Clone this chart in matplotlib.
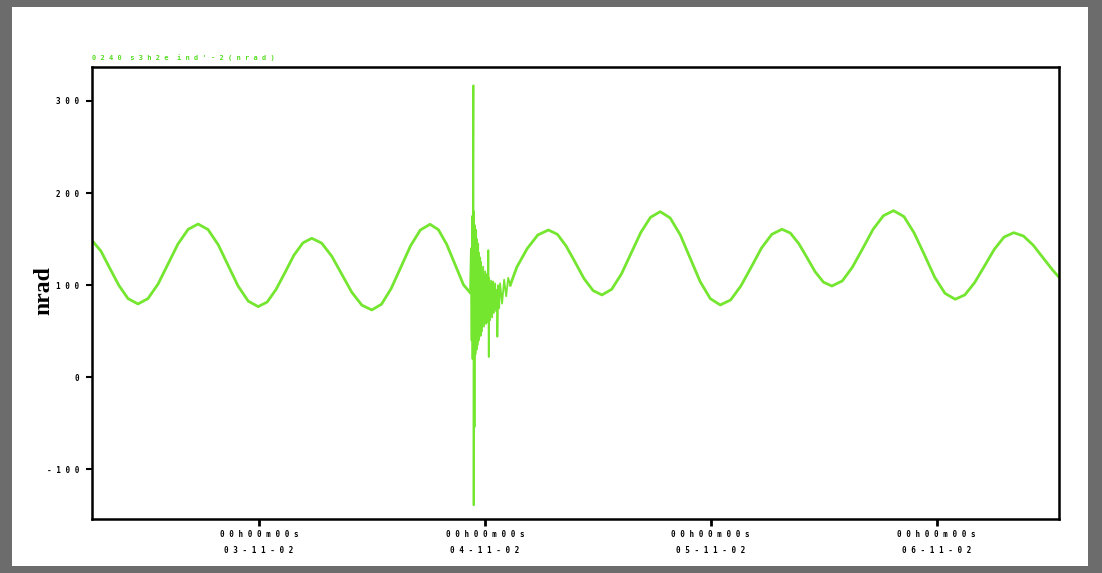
import matplotlib
matplotlib.use('Agg')
import matplotlib.pyplot as plt
from matplotlib.patches import Rectangle

# tilt record (day of November 2002, nrad)
pre_days = [2.259, 2.300, 2.340, 2.380, 2.420, 2.464,
            2.508, 2.553, 2.597, 2.641, 2.686, 2.730,
            2.774, 2.819, 2.863, 2.907, 2.952, 2.996,
            3.036, 3.075, 3.115, 3.154, 3.194, 3.233,
            3.277, 3.322, 3.366, 3.410, 3.455, 3.499,
            3.542, 3.585, 3.628, 3.671, 3.714, 3.757,
            3.794, 3.831, 3.868, 3.905, 3.934]
pre_nrad = [149.0, 137.0, 118.0, 99.5, 85.4, 79.6,
            85.4, 101.3, 123.0, 144.7, 160.6, 166.4,
            160.4, 144.0, 121.5, 99.1, 82.7, 76.7,
            81.7, 95.3, 113.8, 132.4, 145.9, 150.9,
            145.7, 131.4, 112.0, 92.5, 78.3, 73.1,
            79.3, 96.4, 119.6, 142.9, 159.9, 166.1,
            160.2, 144.2, 122.3, 100.4, 92.0]

quake_days = [3.934, 3.938, 3.941, 3.943, 3.945, 3.947, 3.949, 3.950, 3.952, 3.954,
              3.956, 3.958, 3.961, 3.963, 3.965, 3.967, 3.970, 3.972, 3.974, 3.976,
              3.979, 3.981, 3.983, 3.987, 3.992, 3.996, 4.001, 4.005, 4.009, 4.013,
              4.015, 4.017, 4.018, 4.023, 4.027, 4.032, 4.036, 4.040, 4.045, 4.049,
              4.054, 4.055, 4.058, 4.063, 4.067, 4.076, 4.085, 4.094, 4.103, 4.112]
quake_nrad = [92, 140, 40, 175, 20, 185, 317, -139, 180, -54,
              165, 25, 160, 30, 150, 35, 145, 40, 135, 45,
              130, 45, 125, 50, 120, 55, 115, 58, 112, 60,
              138, 22, 108, 62, 105, 65, 104, 70, 102, 72,
              95, 44, 100, 75, 102, 80, 106, 88, 108, 100]

post_days = [4.112, 4.141, 4.187, 4.234, 4.281,
             4.321, 4.360, 4.400, 4.439, 4.479, 4.518,
             4.561, 4.604, 4.647, 4.690, 4.733, 4.776,
             4.820, 4.865, 4.909, 4.953, 4.998, 5.042,
             5.088, 5.133, 5.179, 5.224, 5.270, 5.315,
             5.352, 5.389, 5.426, 5.462, 5.499, 5.536,
             5.582, 5.627, 5.673, 5.718, 5.764, 5.809,
             5.855, 5.900, 5.946, 5.991, 6.037, 6.082,
             6.125, 6.168, 6.212, 6.255, 6.298, 6.341,
             6.384, 6.427, 6.470, 6.513, 6.542]
post_nrad = [100.0, 119.5, 139.7, 154.5, 159.9,
             155.2, 142.3, 124.6, 107.0, 94.1, 89.4,
             95.5, 112.0, 134.6, 157.2, 173.7, 179.8,
             173.0, 154.5, 129.1, 103.8, 85.3, 78.5,
             84.0, 99.1, 119.6, 140.2, 155.2, 160.7,
             156.6, 145.3, 129.9, 114.5, 103.2, 99.1,
             104.6, 119.6, 140.0, 160.5, 175.4, 180.9,
             174.5, 156.8, 132.8, 108.7, 91.1, 84.7,
             89.5, 102.8, 120.9, 138.9, 152.2, 157.0,
             153.4, 143.5, 130.0, 116.5, 108.5]

x_ticks = [3, 4, 5, 6]
x_labels = ['0 0 h 0 0 m 0 0 s\n0 3 - 1 1 - 0 2',
            '0 0 h 0 0 m 0 0 s\n0 4 - 1 1 - 0 2',
            '0 0 h 0 0 m 0 0 s\n0 5 - 1 1 - 0 2',
            '0 0 h 0 0 m 0 0 s\n0 6 - 1 1 - 0 2']
y_ticks = [-100, 0, 100, 200, 300]
y_labels = ['- 1 0 0', '0', '1 0 0', '2 0 0', '3 0 0']

green = '#74e630'

fig = plt.figure(figsize=(11.02, 5.73), dpi=100, facecolor='#6c6c6c')
# white sheet inside the grey frame
fig.patches.append(Rectangle((12 / 1102, 7 / 573), 1076 / 1102, 559 / 573,
                             transform=fig.transFigure, facecolor='white',
                             edgecolor='none', zorder=-5))

ax = fig.add_axes([0.0832, 0.0942, 0.8778, 0.7894])
ax.set_zorder(2)
ax.set_facecolor('white')

ax.plot(pre_days, pre_nrad, color=green, lw=2.0, solid_joinstyle='round')
ax.plot(quake_days, quake_nrad, color=green, lw=1.3)
ax.plot(post_days, post_nrad, color=green, lw=2.0, solid_joinstyle='round')

ax.set_xlim(2.259, 6.5416)
ax.set_ylim(-153.9, 337.2)

ax.set_xticks(x_ticks)
ax.set_xticklabels(x_labels, fontsize=5.5, family='DejaVu Sans Mono',
                   fontweight='bold', linespacing=2.0)
ax.set_yticks(y_ticks)
ax.set_yticklabels(y_labels, fontsize=5.5, family='DejaVu Sans Mono',
                   fontweight='bold')
ax.tick_params(axis='x', direction='out', length=5, width=2, pad=3)
ax.tick_params(axis='y', direction='out', length=4, width=1.5, pad=5)

for s in ax.spines.values():
    s.set_linewidth(1.8)
    s.set_color('black')

ax.set_ylabel('nrad', fontsize=17, family='Liberation Serif', fontweight='bold')
ax.yaxis.set_label_coords(-0.039, 0.505)

fig.text(92 / 1102, 1 - 58 / 573, "0 2 4 0  s 3 h 2 e  i n d ' - 2 ( n r a d )",
         fontsize=5, family='DejaVu Sans Mono', fontweight='bold',
         color='#55dd22', va='center', ha='left')

fig.savefig('out.png', dpi=100, facecolor=fig.get_facecolor())
